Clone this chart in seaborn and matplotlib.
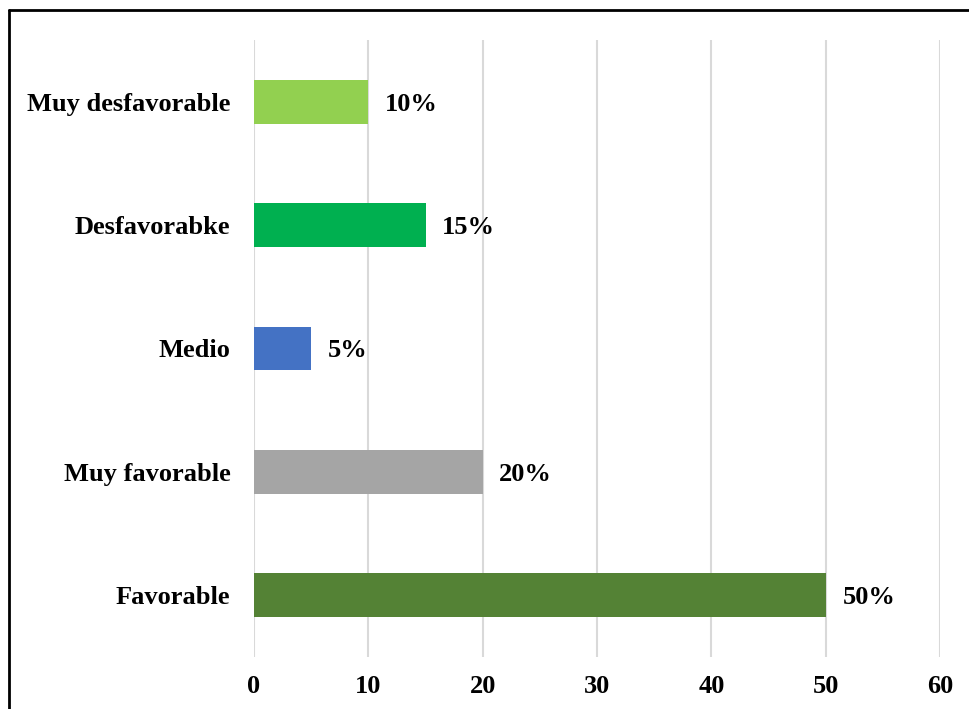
import matplotlib
matplotlib.use("Agg")
import matplotlib.pyplot as plt
import seaborn as sns
import pandas as pd
from matplotlib.lines import Line2D

categories = ["Muy desfavorable", "Desfavorabke", "Medio", "Muy favorable", "Favorable"]
values = [10, 15, 5, 20, 50]
labels = ["10%", "15%", "5%", "20%", "50%"]
colors = ["#92D050", "#00B050", "#4472C4", "#A5A5A5", "#548235"]
xticks = [0, 10, 20, 30, 40, 50, 60]

sns.set_theme(style="white")
plt.rcParams['font.family'] = ['Liberation Serif', 'DejaVu Serif']
plt.rcParams['font.weight'] = 'bold'
plt.rcParams['text.color'] = 'black'
plt.rcParams['xtick.color'] = 'black'
plt.rcParams['ytick.color'] = 'black'

FS = 19

df = pd.DataFrame({"cat": categories, "val": values})

fig = plt.figure(figsize=(9.69, 7.09), dpi=100)
ax = fig.add_axes([254/969, 1-657/709, (940-254)/969, (657-40)/709])

sns.barplot(data=df, y="cat", x="val", hue="cat", palette=colors, order=categories,
            hue_order=categories, width=0.356, legend=False, ax=ax, saturation=1,
            linewidth=0)

ax.set_xlim(0, 60)
ax.set_ylim(4.5, -0.5)
ax.set_xticks(xticks)
ax.set_xticklabels([str(t) for t in xticks], fontsize=FS, fontweight='bold', color='black')
ax.set_yticks(range(len(categories)))
ax.set_yticklabels(categories, fontsize=FS, fontweight='bold', color='black')
ax.tick_params(axis='both', length=0)
ax.tick_params(axis='x', pad=13)
ax.tick_params(axis='y', pad=17)
ax.set_xlabel("")
ax.set_ylabel("")
for s in ax.spines.values():
    s.set_visible(False)
ax.grid(axis='x', color='#D9D9D9', linewidth=1.5)
ax.grid(axis='y', visible=False)
ax.set_axisbelow(True)

for i, (v, lab) in enumerate(zip(values, labels)):
    ax.annotate(lab, xy=(v, i), xytext=(12, 0), textcoords='offset points',
                va='center_baseline', ha='left', fontsize=FS, fontweight='bold', color='black')

fig.add_artist(Line2D([9/969, 9/969], [0, 1-10/709], color='black', linewidth=2, transform=fig.transFigure))
fig.add_artist(Line2D([9/969, 1], [1-10/709, 1-10/709], color='black', linewidth=2, transform=fig.transFigure))

fig.savefig("out.png", dpi=100)
